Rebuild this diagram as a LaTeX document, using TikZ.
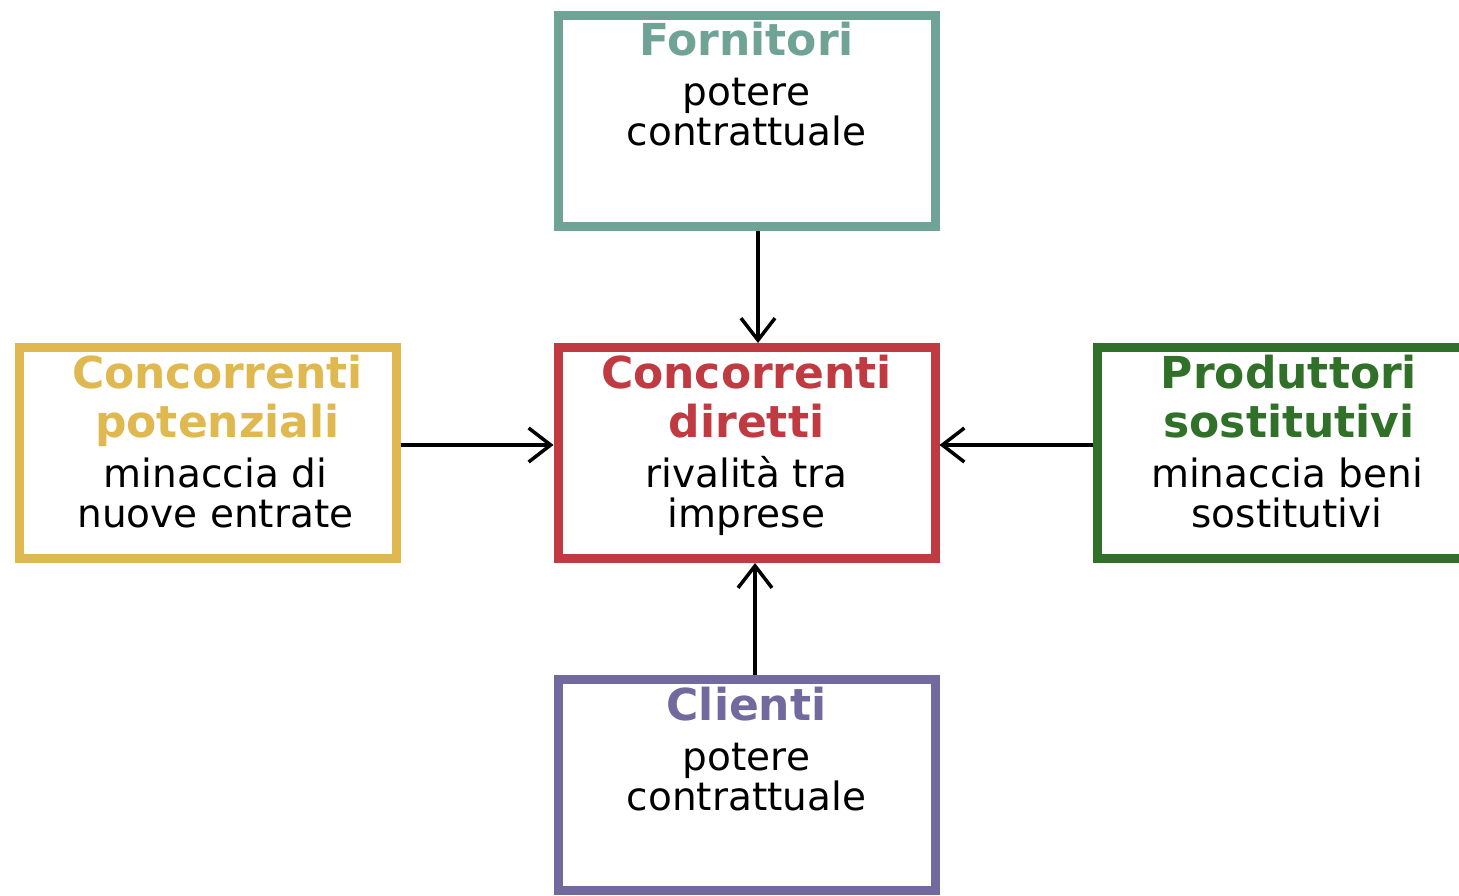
\documentclass[tikz,border=0pt]{standalone}
\usepackage{fontspec}
\setmainfont{DejaVu Sans}
\usetikzlibrary{arrows.meta}

\definecolor{fornitori}{RGB}{111,163,150}
\definecolor{potenziali}{RGB}{224,184,80}
\definecolor{diretti}{RGB}{192,58,66}
\definecolor{sostitutivi}{RGB}{48,112,40}
\definecolor{clienti}{RGB}{114,106,158}

\tikzstyle{force}=[draw,rectangle,line width=9pt,minimum width=377pt,minimum height=211pt,inner sep=0pt]
\tikzstyle{title}=[font=\fontsize{44}{49}\selectfont\bfseries,align=center,anchor=base,inner sep=0pt]
\tikzstyle{body}=[font=\fontsize{39}{40}\selectfont,align=center,anchor=base,inner sep=0pt]

\begin{document}
\begin{tikzpicture}[x=1pt,y=-1pt]
	\useasboundingbox[fill=white] (0,0) rectangle (1459,896);
	\clip (0,0) rectangle (1459,896);
	\begin{scope}[>={Straight Barb[length=22pt,width=34pt]}]
		% the five forces
		\node (F)[force,draw=fornitori] at (746.5,121) {};
		\node (D)[force,draw=diretti] at (746.5,453) {};
		\node (P)[force,draw=potenziali] at (207.5,453) {};
		\node (S)[force,draw=sostitutivi] at (1286,453) {};
		\node (C)[force,draw=clienti] at (746.5,785) {};

		% base = last line
		\node (Ft)[title,text=fornitori] at ([yshift=-45pt]F.north) {Fornitori};
		\node (Fb)[body] at ([yshift=-135pt]F.north) {potere\\contrattuale};
		\node (Dt)[title,text=diretti] at ([yshift=-94pt]D.north) {Concorrenti\\diretti};
		\node (Db)[body] at ([yshift=-184pt]D.north) {rivalità tra\\imprese};
		\node (Pt)[title,text=potenziali] at ([xshift=10pt,yshift=-94pt]P.north) {Concorrenti\\potenziali};
		\node (Pb)[body] at ([xshift=8pt,yshift=-184pt]P.north) {minaccia di\\nuove entrate};
		\node (St)[title,text=sostitutivi] at ([xshift=3pt,yshift=-94pt]S.north) {Produttori\\sostitutivi};
		\node (Sb)[body] at ([xshift=1pt,yshift=-184pt]S.north) {minaccia beni\\sostitutivi};
		\node (Ct)[title,text=clienti] at ([yshift=-45pt]C.north) {Clienti};
		\node (Cb)[body] at ([yshift=-135pt]C.north) {potere\\contrattuale};

		\draw[->,line width=3.5pt] ([xshift=11.5pt]F.south) -- ([xshift=11.5pt]D.north);
		\draw[->,line width=3.5pt] ([xshift=8.5pt]C.north) -- ([xshift=8.5pt]D.south);
		\draw[->,line width=3.5pt] ([yshift=8pt]P.east) -- ([yshift=8pt]D.west);
		\draw[->,line width=3.5pt] ([yshift=8pt]S.west) -- ([yshift=8pt]D.east);
	\end{scope}
\end{tikzpicture}
\end{document}
